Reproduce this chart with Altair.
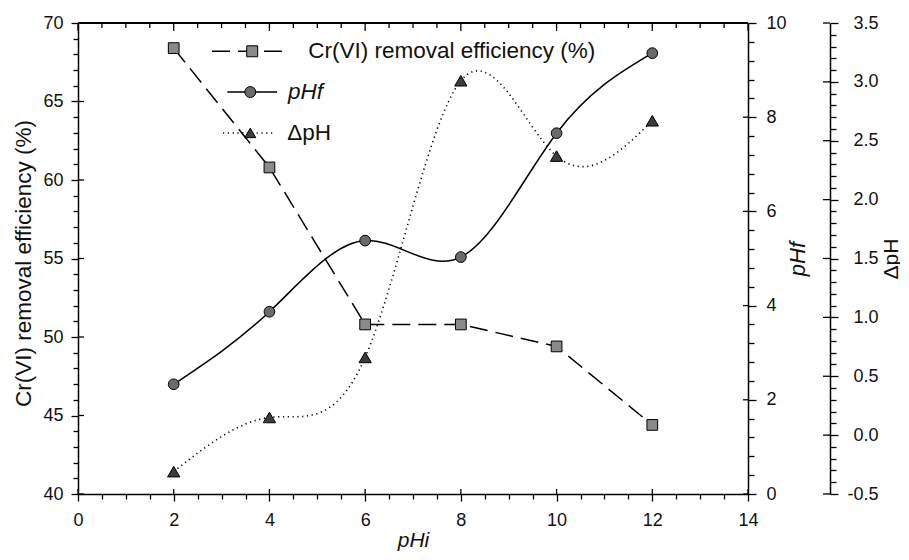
import altair as alt
import pandas as pd

# ---- data ----
ph_i = [2, 4, 6, 8, 10, 12]
cr_removal = [68.4, 60.8, 50.8, 50.8, 49.4, 44.4]
ph_f = [2.33, 3.87, 5.38, 5.03, 7.66, 9.36]
delta_ph = [-0.31, 0.15, 0.66, 3.01, 2.37, 2.67]

# ---- legend entries (positions in data units of pHi / left axis) ----
legend_labels = ["Cr(VI) removal efficiency (%)", "pHf", "ΔpH"]
legend_y = [68.2, 65.6, 63.0]
legend_x0 = [2.80, 3.12, 3.03]
legend_x1 = [4.26, 4.16, 4.08]
legend_xm = [3.64, 3.60, 3.60]
legend_xt = [4.81, 4.39, 4.37]

# ---- tick positions ----
x_ticks = [i * 0.5 for i in range(29)]
x_major_ticks = [0, 2, 4, 6, 8, 10, 12, 14]
cr_ticks = list(range(40, 71))
cr_major_ticks = [40, 45, 50, 55, 60, 65, 70]
phf_ticks = [round(i * 0.4, 1) for i in range(26)]
phf_major_ticks = [0, 2, 4, 6, 8, 10]
dph_ticks = [round(-0.5 + i * 0.1, 1) for i in range(41)]
dph_major_ticks = [-0.5, 0.0, 0.5, 1.0, 1.5, 2.0, 2.5, 3.0, 3.5]

df = pd.DataFrame({"pHi": ph_i, "cr": cr_removal, "phf": ph_f, "dph": delta_ph})
leg = pd.DataFrame({"series": legend_labels, "ly": legend_y, "x0": legend_x0,
                    "x1": legend_x1, "xm": legend_xm, "xt": legend_xt})
top_minor = pd.DataFrame({"t": [t for t in x_ticks if t not in x_major_ticks]})
top_major = pd.DataFrame({"t": x_major_ticks})
cr_major_df = pd.DataFrame({"v": cr_major_ticks})
phf_major_df = pd.DataFrame({"v": phf_major_ticks})
dph_major_df = pd.DataFrame({"v": dph_major_ticks})

FONT = "Liberation Sans"
W, H = 670, 471
DOFF = 82

x_scale = alt.Scale(domain=[0, 14], nice=False, zero=False)
cr_scale = alt.Scale(domain=[40, 70], nice=False, zero=False)
phf_scale = alt.Scale(domain=[0, 10], nice=False, zero=False)
dph_scale = alt.Scale(domain=[-0.5, 3.5], nice=False, zero=False)

common = dict(domainColor="black", domainWidth=1.5, tickColor="black", tickWidth=1.3,
              labelFont=FONT, labelFontSize=18, labelColor="#111", titleFont=FONT,
              titleFontWeight="normal", titleColor="#111",
              labelOverlap=False, grid=False, labelFlush=False)

x_major = "datum.value % 2 === 0"
x_axis = alt.Axis(values=x_ticks, labelExpr=f"{x_major} ? format(datum.value, 'd') : ''",
                  tickSize={"condition": {"test": x_major, "value": 7}, "value": 5},
                  labelPadding=10, titlePadding=0, titleFontSize=21,
                  titleFontStyle="italic", **common)

cr_major = "datum.value % 5 === 0"
cr_axis = alt.Axis(values=cr_ticks, labelExpr=f"{cr_major} ? format(datum.value, 'd') : ''",
                   tickSize={"condition": {"test": cr_major, "value": 7}, "value": 5},
                   labelPadding=8, titlePadding=7, titleFontSize=22.5, titleY=240, **common)

phf_major = "abs(datum.value / 2 - round(datum.value / 2)) < 0.001"
phf_axis = alt.Axis(orient="right", values=phf_ticks,
                    labelExpr=f"{phf_major} ? format(datum.value, 'd') : ''",
                    tickSize={"condition": {"test": phf_major, "value": 8}, "value": 6},
                    labelPadding=10, titlePadding=23, titleAngle=270, titleFontSize=22,
                    titleFontStyle="italic", **common)

dph_major = "abs(datum.value * 2 - round(datum.value * 2)) < 0.001"
dph_axis = alt.Axis(orient="right", offset=DOFF, values=dph_ticks,
                    labelExpr=f"{dph_major} ? replace(format(datum.value, '.1f'), '\u2212', '-') : ''",
                    tickSize={"condition": {"test": dph_major, "value": 8}, "value": 6},
                    labelPadding=40, labelAlign="right", titlePadding=23, titleAngle=270,
                    titleFontSize=21, **common)

base = alt.Chart(df)

cr_line = base.mark_line(color="black", strokeWidth=1.5, strokeDash=[18, 8]).encode(
    x=alt.X("pHi:Q", scale=x_scale, axis=x_axis, title="pHi"),
    y=alt.Y("cr:Q", scale=cr_scale, axis=cr_axis, title="Cr(VI) removal efficiency (%)"),
)
ph_line = base.mark_line(color="black", strokeWidth=1.5, interpolate="natural").encode(
    x=alt.X("pHi:Q", scale=x_scale, axis=None),
    y=alt.Y("phf:Q", scale=phf_scale, axis=phf_axis, title="pHf"),
)
dph_line = base.mark_line(color="black", strokeWidth=1.6, interpolate="natural",
                          strokeDash=[1.2, 3.6]).encode(
    x=alt.X("pHi:Q", scale=x_scale, axis=None),
    y=alt.Y("dph:Q", scale=dph_scale, axis=dph_axis, title="ΔpH"),
)
cr_pts = base.mark_point(shape="square", filled=True, fill="#8a8a8a", stroke="black",
                         strokeWidth=1, size=115, opacity=1).encode(
    x=alt.X("pHi:Q", scale=x_scale, axis=None),
    y=alt.Y("cr:Q", scale=cr_scale, axis=None),
)
ph_pts = base.mark_point(shape="circle", filled=True, fill="#6a6a6a", stroke="black",
                         strokeWidth=1, size=115, opacity=1).encode(
    x=alt.X("pHi:Q", scale=x_scale, axis=None),
    y=alt.Y("phf:Q", scale=phf_scale, axis=None),
)
dph_pts = base.mark_point(shape="triangle-up", filled=True, fill="#3c3c3c", stroke="black",
                          strokeWidth=1, size=150, opacity=1).encode(
    x=alt.X("pHi:Q", scale=x_scale, axis=None),
    y=alt.Y("dph:Q", scale=dph_scale, axis=None),
)

# ---- frame: top border with inward ticks, inward halves of major ticks ----
top_border = alt.Chart(top_major).mark_rule(color="black", strokeWidth=1.5).encode(
    x=alt.value(0), x2=alt.value(W), y=alt.value(0))
top_ticks_major = alt.Chart(top_major).mark_rule(color="black", strokeWidth=1.3).encode(
    x=alt.X("t:Q", scale=x_scale, axis=None), y=alt.value(0), y2=alt.value(8))
top_ticks_minor = alt.Chart(top_minor).mark_rule(color="black", strokeWidth=1.3).encode(
    x=alt.X("t:Q", scale=x_scale, axis=None), y=alt.value(0), y2=alt.value(5))
bottom_in = alt.Chart(top_major).mark_rule(color="black", strokeWidth=1.3).encode(
    x=alt.X("t:Q", scale=x_scale, axis=None), y=alt.value(H), y2=alt.value(H - 5))
left_in = alt.Chart(cr_major_df).mark_rule(color="black", strokeWidth=1.3).encode(
    y=alt.Y("v:Q", scale=cr_scale, axis=None), x=alt.value(0), x2=alt.value(6))
phf_in = alt.Chart(phf_major_df).mark_rule(color="black", strokeWidth=1.3).encode(
    y=alt.Y("v:Q", scale=phf_scale, axis=None), x=alt.value(W - 5), x2=alt.value(W))
dph_in = alt.Chart(dph_major_df).mark_rule(color="black", strokeWidth=1.3).encode(
    y=alt.Y("v:Q", scale=dph_scale, axis=None), x=alt.value(W + DOFF - 7), x2=alt.value(W + DOFF))

# ---- legend ----
lbase = alt.Chart(leg)
leg_lines = lbase.mark_rule(color="black", strokeWidth=1.5).encode(
    x=alt.X("x0:Q", scale=x_scale, axis=None),
    x2="x1:Q",
    y=alt.Y("ly:Q", scale=cr_scale, axis=None),
    strokeDash=alt.StrokeDash("series:N", scale=alt.Scale(domain=legend_labels,
                              range=[[18, 8], [1, 0], [1.2, 3.6]]), legend=None),
)
leg_pts = lbase.mark_point(filled=True, stroke="black", strokeWidth=1, size=120, opacity=1).encode(
    x=alt.X("xm:Q", scale=x_scale, axis=None),
    y=alt.Y("ly:Q", scale=cr_scale, axis=None),
    shape=alt.Shape("series:N", scale=alt.Scale(domain=legend_labels,
                    range=["square", "circle", "triangle-up"]), legend=None),
    fill=alt.Fill("series:N", scale=alt.Scale(domain=legend_labels,
                  range=["#8a8a8a", "#6a6a6a", "#3c3c3c"]), legend=None),
)
leg_text = lbase.mark_text(align="left", baseline="middle", font=FONT, fontSize=22.5,
                           color="#111").encode(
    x=alt.X("xt:Q", scale=x_scale, axis=None),
    y=alt.Y("ly:Q", scale=cr_scale, axis=None),
    text="series:N",
).transform_filter("datum.series !== 'pHf'")
leg_text_it = lbase.mark_text(align="left", baseline="middle", font=FONT, fontSize=22.5,
                              fontStyle="italic", color="#111").encode(
    x=alt.X("xt:Q", scale=x_scale, axis=None),
    y=alt.Y("ly:Q", scale=cr_scale, axis=None),
    text="series:N",
).transform_filter("datum.series === 'pHf'")

chart = alt.layer(
    cr_line, ph_line, dph_line, cr_pts, ph_pts, dph_pts,
    top_border, top_ticks_major, top_ticks_minor, bottom_in, left_in, phf_in, dph_in,
    leg_lines, leg_pts, leg_text, leg_text_it,
).resolve_scale(y="independent").resolve_axis(x="independent", y="independent").properties(
    width=W, height=H,
    padding={"left": 70, "top": 15, "right": 152, "bottom": 58},
    autosize=alt.AutoSizeParams(type="none"),
    background="white",
).configure_view(stroke=None)

chart.save("out.html", embed_options={"renderer": "svg", "actions": False})
